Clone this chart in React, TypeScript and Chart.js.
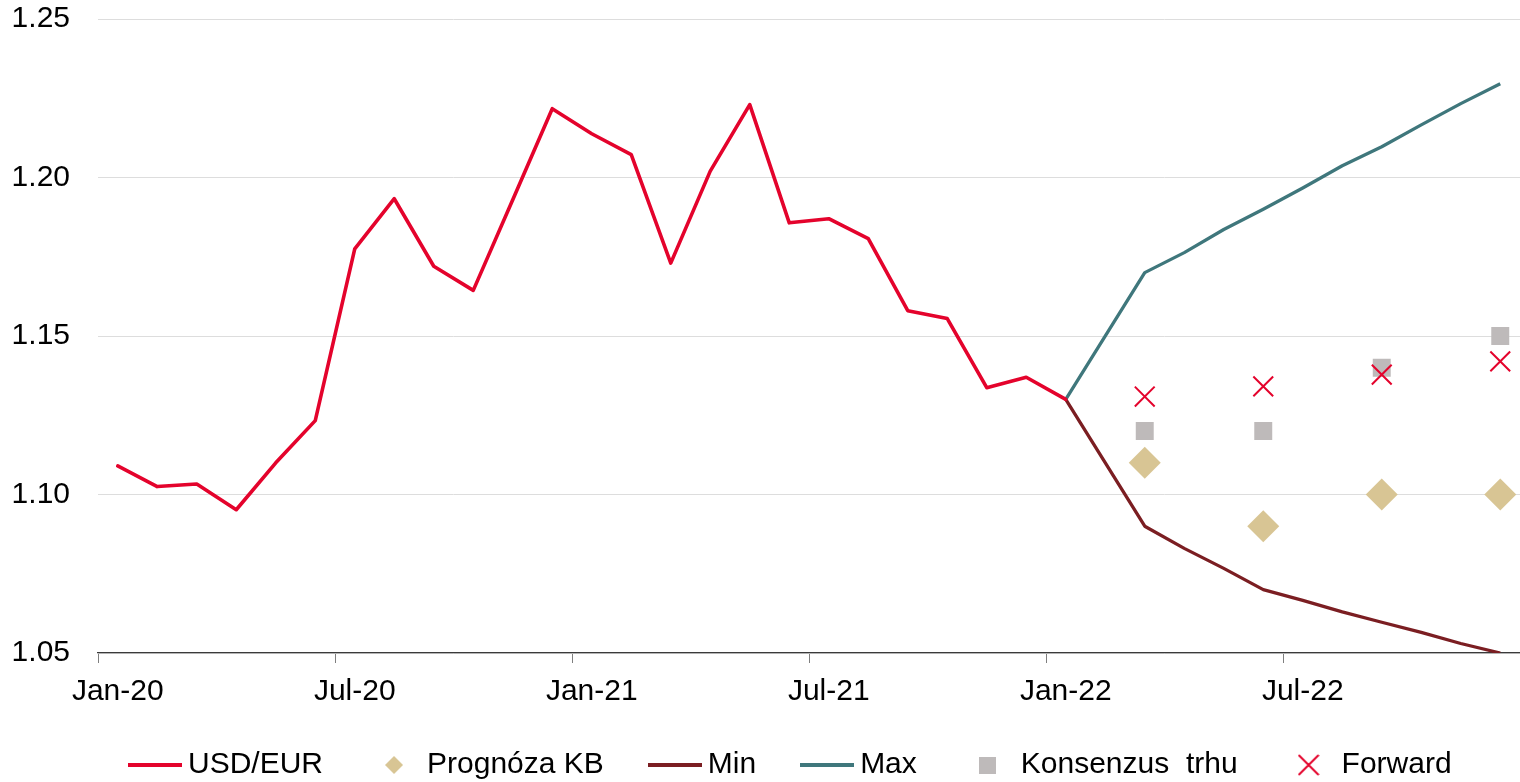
import React, { useEffect, useRef } from 'react';
import { Chart, registerables } from 'chart.js';

Chart.register(...registerables);

const categories = [
  'Jan-20', 'Feb-20', 'Mar-20', 'Apr-20', 'May-20', 'Jun-20', 'Jul-20', 'Aug-20', 'Sep-20', 'Oct-20', 'Nov-20', 'Dec-20',
  'Jan-21', 'Feb-21', 'Mar-21', 'Apr-21', 'May-21', 'Jun-21', 'Jul-21', 'Aug-21', 'Sep-21', 'Oct-21', 'Nov-21', 'Dec-21',
  'Jan-22', 'Feb-22', 'Mar-22', 'Apr-22', 'May-22', 'Jun-22', 'Jul-22', 'Aug-22', 'Sep-22', 'Oct-22', 'Nov-22', 'Dec-22',
];

const usdEur = [
  1.109, 1.1025, 1.1033, 1.0952, 1.110, 1.1233, 1.1775, 1.1933, 1.172, 1.1644, 1.193, 1.2217,
  1.2138, 1.2072, 1.173, 1.202, 1.223, 1.1857, 1.187, 1.1807, 1.158, 1.1555, 1.1337, 1.137,
  1.130, null, null, null, null, null, null, null, null, null, null, null,
];

const minValues = [
  null, null, null, null, null, null, null, null, null, null, null, null,
  null, null, null, null, null, null, null, null, null, null, null, null,
  1.130, null, 1.090, 1.083, 1.0767, 1.070, 1.0666, 1.063, 1.0597, 1.0565, 1.053, 1.050,
];

const maxValues = [
  null, null, null, null, null, null, null, null, null, null, null, null,
  null, null, null, null, null, null, null, null, null, null, null, null,
  1.130, null, 1.170, 1.1763, 1.1836, 1.190, 1.1967, 1.2037, 1.2097, 1.2166, 1.2233, 1.2296,
];

const forecastMonths = ['Mar-22', 'Jun-22', 'Sep-22', 'Dec-22'];
const prognozaKB = [1.11, 1.09, 1.10, 1.10];
const konsenzus = [1.12, 1.12, 1.14, 1.15];
const forward = [1.1309, 1.1341, 1.1378, 1.142];

const yTicks = [1.05, 1.10, 1.15, 1.20, 1.25];

const legendNames = ['USD/EUR', 'Prognóza KB', 'Min', 'Max', 'Konsenzus  trhu', 'Forward'];

const RED = '#E4032C';
const DARKRED = '#7B1E22';
const TEAL = '#3F777C';
const TAN = '#D8C594';
const GREY = '#BEBABA';

function mkCanvas(w: number, h: number, draw: (c: CanvasRenderingContext2D) => void) {
  const cv = document.createElement('canvas');
  cv.width = w;
  cv.height = h;
  const c = cv.getContext('2d')!;
  draw(c);
  return cv;
}

export default function App() {
  const ref = useRef<HTMLCanvasElement>(null);

  useEffect(() => {
    Chart.defaults.font.family = "'Liberation Sans', Arial, sans-serif";
    Chart.defaults.color = '#000';

    const lineSym = (color: string) =>
      mkCanvas(54, 4, (c) => {
        c.fillStyle = color;
        c.fillRect(0, 0, 54, 4);
      });
    const diamondSym = mkCanvas(18, 18, (c) => {
      c.fillStyle = TAN;
      c.beginPath();
      c.moveTo(9, 0);
      c.lineTo(18, 9);
      c.lineTo(9, 18);
      c.lineTo(0, 9);
      c.closePath();
      c.fill();
    });
    const squareSym = mkCanvas(17, 17, (c) => {
      c.fillStyle = GREY;
      c.fillRect(0, 0, 17, 17);
    });
    const crossSym = mkCanvas(22, 22, (c) => {
      c.strokeStyle = RED;
      c.lineWidth = 2;
      c.beginPath();
      c.moveTo(1, 1);
      c.lineTo(21, 21);
      c.moveTo(21, 1);
      c.lineTo(1, 21);
      c.stroke();
    });
    const legendSymbols = [lineSym(RED), diamondSym, lineSym(DARKRED), lineSym(TEAL), squareSym, crossSym];

    const legendPlace = {
      id: 'legendPlace',
      afterLayout(chart: any) {
        const lg = chart.legend;
        if (!lg) return;
        const pad = 53;
        const left = 137 - pad;
        const top = 765 - pad - 15;
        const w = lg.right - lg.left;
        const h = lg.bottom - lg.top;
        lg.left = left;
        lg.right = left + w;
        lg.top = top;
        lg.bottom = top + h;
      },
    };

    const chart = new Chart(ref.current!, {
      type: 'line',
      data: {
        labels: categories,
        datasets: [
          {
            label: 'Forward',
            data: forecastMonths.map((m, i) => ({ x: m, y: forward[i] })),
            showLine: false,
            pointStyle: 'crossRot',
            pointRadius: 14,
            pointBorderWidth: 2,
            pointBorderColor: RED,
            pointBackgroundColor: RED,
            borderColor: RED,
          },
          {
            label: 'Konsenzus  trhu',
            data: forecastMonths.map((m, i) => ({ x: m, y: konsenzus[i] })),
            showLine: false,
            pointStyle: 'rect',
            pointRadius: 12.7,
            pointBorderWidth: 0,
            pointBackgroundColor: GREY,
            pointBorderColor: GREY,
            borderColor: GREY,
          },
          {
            label: 'Prognóza KB',
            data: forecastMonths.map((m, i) => ({ x: m, y: prognozaKB[i] })),
            showLine: false,
            pointStyle: 'rectRot',
            pointRadius: 16,
            pointBorderWidth: 0,
            pointBackgroundColor: TAN,
            pointBorderColor: TAN,
            borderColor: TAN,
          },
          {
            label: 'USD/EUR',
            data: usdEur,
            borderColor: RED,
            borderWidth: 3.6,
            pointRadius: 0,
            tension: 0,
            borderJoinStyle: 'round',
            borderCapStyle: 'round',
          },
          {
            label: 'Max',
            data: maxValues,
            borderColor: TEAL,
            borderWidth: 3.3,
            pointRadius: 0,
            tension: 0,
            spanGaps: true,
            borderJoinStyle: 'round',
          },
          {
            label: 'Min',
            data: minValues,
            borderColor: DARKRED,
            borderWidth: 3.3,
            pointRadius: 0,
            tension: 0,
            spanGaps: true,
            borderJoinStyle: 'round',
          },
        ],
      },
      options: {
        animation: false,
        responsive: true,
        maintainAspectRatio: false,
        layout: { autoPadding: false, padding: { top: 19, right: 0, left: 0, bottom: -24 } },
        plugins: {
          tooltip: { enabled: false },
          legend: {
            display: true,
            position: 'bottom',
            align: 'start',
            labels: {
              usePointStyle: true,
              pointStyleWidth: 36,
              boxWidth: 36,
              padding: 53,
              color: '#000',
              font: { size: 30 },
              generateLabels: () =>
                legendNames.map((name, i) => ({
                  text: name,
                  pointStyle: legendSymbols[i],
                  fillStyle: 'transparent',
                  strokeStyle: 'transparent',
                  lineWidth: 0,
                  hidden: false,
                  fontColor: '#000',
                  datasetIndex: i,
                })),
            },
          },
        },
        scales: {
          x: {
            type: 'category',
            offset: true,
            grid: {
              offset: true,
              drawOnChartArea: false,
              drawTicks: true,
              tickLength: 10,
              lineWidth: 1,
              color: (ctx: any) => (ctx.index !== undefined && ctx.index % 6 === 0 ? '#7F7F7F' : 'rgba(0,0,0,0)'),
              tickColor: (ctx: any) => (ctx.index !== undefined && ctx.index % 6 === 0 ? '#7F7F7F' : 'rgba(0,0,0,0)'),
            },
            border: { display: true, color: '#3A3A3A', width: 1.2 },
            ticks: {
              autoSkip: false,
              maxRotation: 0,
              minRotation: 0,
              padding: 11,
              color: '#000',
              font: { size: 30 },
              callback: (_v: any, i: number) => (i % 6 === 0 ? categories[i] : ''),
            },
            afterFit: (s: any) => {
              s.height = 60;
              s.paddingLeft = 0;
              s.paddingRight = 0;
            },
          },
          y: {
            min: yTicks[0],
            max: yTicks[yTicks.length - 1],
            afterBuildTicks: (s: any) => {
              s.ticks = yTicks.map((v) => ({ value: v }));
            },
            ticks: {
              padding: 28,
              color: '#000',
              font: { size: 30 },
              callback: (v: any) => Number(v).toFixed(2),
            },
            grid: { color: '#DDDDDD', lineWidth: 1, drawTicks: false },
            border: { display: false },
            afterFit: (s: any) => {
              s.width = 98;
              s.paddingTop = 0;
              s.paddingBottom = 0;
            },
          },
        },
      },
      plugins: [legendPlace],
    } as any);

    return () => chart.destroy();
  }, []);

  return (
    <div style={{ position: 'absolute', left: 0, top: 0, width: 1520, height: 782 }}>
      <canvas ref={ref} />
    </div>
  );
}
